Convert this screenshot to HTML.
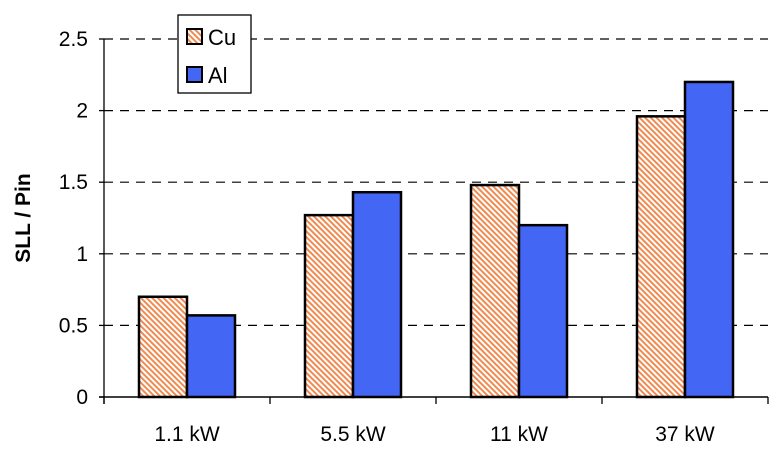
<!DOCTYPE html>
<html><head><meta charset="utf-8"><style>
body{margin:0;background:#fff}
svg text{font-family:"Liberation Sans",Arial,sans-serif}
</style></head><body>
<svg id="chart" width="778" height="447">
<defs>
<pattern id="hatch" width="4" height="4" patternUnits="userSpaceOnUse" patternTransform="rotate(-45)">
<rect width="4" height="4" fill="#fff"/>
<rect width="2" height="4" fill="#f08a50"/>
</pattern>
</defs>
<g id="grid"></g>
<g id="bars"></g>
<g id="axes"></g>
<text x="30" y="218" transform="rotate(-90 30 218)" text-anchor="middle" font-size="21" font-weight="bold">SLL / Pin</text>
<g>
<rect x="178" y="15" width="73" height="78" fill="#fff" stroke="#000" stroke-width="1.3"/>
<g>
<rect x="187" y="29" width="15" height="15" fill="url(#hatch)" stroke="#000" stroke-width="2"/>
<text x="208" y="45" font-size="22">Cu</text></g>
<g>
<rect x="187" y="67" width="15" height="15" fill="#4366f5" stroke="#000" stroke-width="2"/>
<text x="208" y="83" font-size="22">Al</text></g>
</g>
</svg>
<script>
const categories=["1.1 kW","5.5 kW","11 kW","37 kW"];
const cuValues=[0.70,1.27,1.48,1.96];
const alValues=[0.57,1.43,1.20,2.20];
const yTicks=[0,0.5,1,1.5,2,2.5];
const yTickLabels=["0","0.5","1","1.5","2","2.5"];
const NS="http://www.w3.org/2000/svg";
const x0=104,x1=768,yTop=39,yBot=397,yMax=2.5;
const y=v=>yBot-(v/yMax)*(yBot-yTop);
const bw=(x1-x0)/categories.length;
const xc=i=>x0+bw*(i+0.5);
function mk(tag,attrs,parent){const e=document.createElementNS(NS,tag);for(const k in attrs)e.setAttribute(k,attrs[k]);document.getElementById(parent).appendChild(e);return e;}
yTicks.forEach((t,i)=>{
 if(t>0){const l=mk('line',{x1:x0,x2:x1,y1:y(t),y2:y(t),stroke:'#000','stroke-width':1.2,'stroke-dasharray':'9,7'},'grid');
 
 }
 const tk=mk('line',{x1:x0-5,x2:x0,y1:y(t),y2:y(t),stroke:'#000','stroke-width':1.3},'axes');
 
 
 const tx=mk('text',{x:x0-16,y:y(t)+7,'text-anchor':'end','font-size':21},'axes');
 tx.textContent=yTickLabels[i];
 
 
});
const barW=48;
categories.forEach((c,i)=>{
 const cx=xc(i);
 const b1=mk('rect',{x:cx-barW,y:y(cuValues[i]),width:barW,height:yBot-y(cuValues[i]),fill:'url(#hatch)',stroke:'#000','stroke-width':2.5},'bars');
 
 
 const b2=mk('rect',{x:cx,y:y(alValues[i]),width:barW,height:yBot-y(alValues[i]),fill:'#4366f5',stroke:'#000','stroke-width':2.5},'bars');
 
 
 const tx=mk('text',{x:cx,y:441,'text-anchor':'middle','font-size':21},'axes');
 tx.textContent=c;
 
 
});
for(let i=0;i<=categories.length;i++){
 const xx=x0+bw*i;
 const tk=mk('line',{x1:xx,x2:xx,y1:yBot,y2:yBot+7,stroke:'#000','stroke-width':1.3},'axes');
 
 
}
const ya=mk('line',{x1:x0,x2:x0,y1:yTop,y2:yBot+7,stroke:'#000','stroke-width':1.3},'axes');


const xa=mk('line',{x1:x0-5,x2:x1,y1:yBot,y2:yBot,stroke:'#000','stroke-width':1.5},'axes');


</script>
</body></html>
